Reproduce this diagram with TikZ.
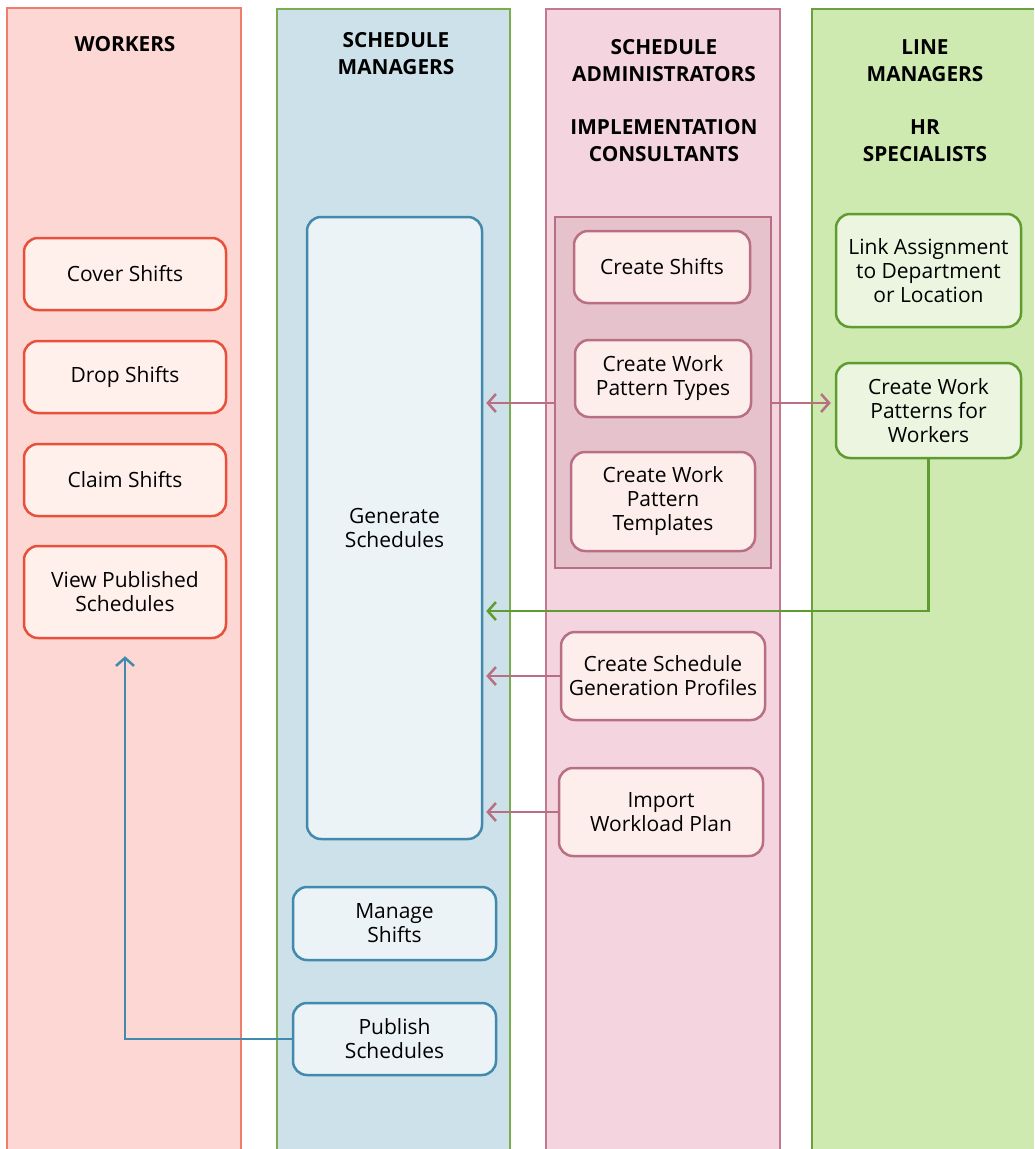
\documentclass[tikz,border=0pt]{standalone}
\usepackage{fontspec}
\setmainfont{Open Sans}
\usetikzlibrary{arrows.meta}
\definecolor{wfill}{HTML}{FDD7D3}
\definecolor{wline}{HTML}{F07C6E}
\definecolor{mfill}{HTML}{CDE1EA}
\definecolor{mline}{HTML}{7AAE4A}
\definecolor{afill}{HTML}{F4D5DF}
\definecolor{aline}{HTML}{C0798E}
\definecolor{lfill}{HTML}{CFEAB0}
\definecolor{lline}{HTML}{6AA13C}
\definecolor{wbfill}{HTML}{FFF0EC}
\definecolor{wbline}{HTML}{E9503B}
\definecolor{bbfill}{HTML}{EBF3F6}
\definecolor{bbline}{HTML}{4189AD}
\definecolor{pbfill}{HTML}{FEEEEB}
\definecolor{pbline}{HTML}{B86F83}
\definecolor{gpfill}{HTML}{E6C2CC}
\definecolor{gbfill}{HTML}{EBF5E0}
\definecolor{gbline}{HTML}{5E9C30}
\begin{document}
\begin{tikzpicture}[x=1pt,y=-1pt,
  lanetitle/.style={font=\bfseries\fontsize{20.8}{27}\selectfont, align=center, inner sep=0},
  box/.style={draw, rounded corners=14pt, line width=2.5pt, align=center,
    font=\fontsize{21}{24}\selectfont, inner sep=0, minimum width=#1},
  wbox/.style={box=202pt, fill=wbfill, draw=wbline},
  bbox/.style={box=203pt, fill=bbfill, draw=bbline},
  pbox/.style={box=#1, fill=pbfill, draw=pbline},
  gbox/.style={box=185pt, fill=gbfill, draw=gbline},
  conn/.style={line width=2.5pt, -{Straight Barb[length=8pt,width=18pt,line width=2.5pt]}},
]
\useasboundingbox (0,0) rectangle (1034,1149);
% lanes
\fill[wfill] (7,8) rectangle (241,1149);
\draw[wline, line width=1.5pt] (7,1149) -- (7,8) -- (241,8) -- (241,1149);
\fill[mfill] (277,9) rectangle (510,1149);
\draw[mline, line width=1.5pt] (277,1149) -- (277,9) -- (510,9) -- (510,1149);
\fill[afill] (546,9) rectangle (780,1149);
\draw[aline, line width=1.5pt] (546,1149) -- (546,9) -- (780,9) -- (780,1149);
\fill[lfill] (812,9) rectangle (1034,1149);
\draw[lline, line width=1.5pt] (1034,9) -- (812,9) -- (812,1149);
% titles
\node[lanetitle] (t1) at (125,44) {WORKERS};
\node[lanetitle] (t2) at (396,53.5) {SCHEDULE\\MANAGERS};
\node[lanetitle] (t3) at (664,60.5) {SCHEDULE\\ADMINISTRATORS};
\node[lanetitle] (t4) at (664,140.5) {IMPLEMENTATION\\CONSULTANTS};
\node[lanetitle] (t5) at (925,60.5) {LINE\\MANAGERS};
\node[lanetitle] (t6) at (925,140.5) {HR\\SPECIALISTS};
% workers
\node[wbox, minimum height=72pt] (cover) at (125,274) {Cover Shifts};
\node[wbox, minimum height=72pt] (drop) at (125,377) {Drop Shifts};
\node[wbox, minimum height=72pt] (claim) at (125,480) {Claim Shifts};
\node[wbox, minimum height=92pt] (view) at (125,592) {View Published\\Schedules};
% managers
\node[bbox, minimum width=175pt, minimum height=622pt] (gen) at (394.5,528) {Generate\\Schedules};
\node[bbox, minimum height=73pt] (manage) at (394.5,923.5) {Manage\\Shifts};
\node[bbox, minimum height=72pt] (pub) at (394.5,1039) {Publish\\Schedules};
% administrators
\node[draw=pbline, fill=gpfill, line width=2.5pt, minimum width=216pt, minimum height=351pt, inner sep=0] (grp) at (663,392.5) {};
\node[pbox=176pt, minimum height=72pt] (cshift) at (662,267) {Create Shifts};
\node[pbox=176pt, minimum height=77pt] (cwpt) at (663,378.5) {Create Work\\Pattern Types};
\node[pbox=184pt, minimum height=99pt] (cwptm) at (663,501.5) {Create Work\\Pattern\\Templates};
\node[pbox=204pt, minimum height=88pt] (csgp) at (663,676) {Create Schedule\\Generation Profiles};
\node[pbox=204pt, minimum height=88pt] (imp) at (661,812) {Import\\Workload Plan};
% line managers
\node[gbox, minimum height=113pt] (link) at (928.5,270.5) {Link Assignment\\to Department\\or Location};
\node[gbox, minimum height=95pt] (cwpw) at (928.5,410.5) {Create Work\\Patterns for\\Workers};
% connector helpers
\coordinate (ya) at (0,403);
\coordinate (yg) at (0,611);
% connectors
\draw[conn, draw=pbline, shorten >=3pt] (grp.west |- ya) -- (gen.east |- ya);
\draw[conn, draw=pbline, shorten >=4pt] (grp.east |- ya) -- (cwpw.west |- ya);
\draw[conn, draw=gbline, shorten >=3pt] (cwpw.south) |- (gen.east |- yg);
\draw[conn, draw=pbline, shorten >=3pt] (csgp.west) -- (gen.east |- csgp.west);
\draw[conn, draw=pbline, shorten >=3pt] (imp.west) -- (gen.east |- imp.west);
\draw[conn, draw=bbline, shorten >=17pt] (pub.west) -| (view.south);
\end{tikzpicture}
\end{document}
